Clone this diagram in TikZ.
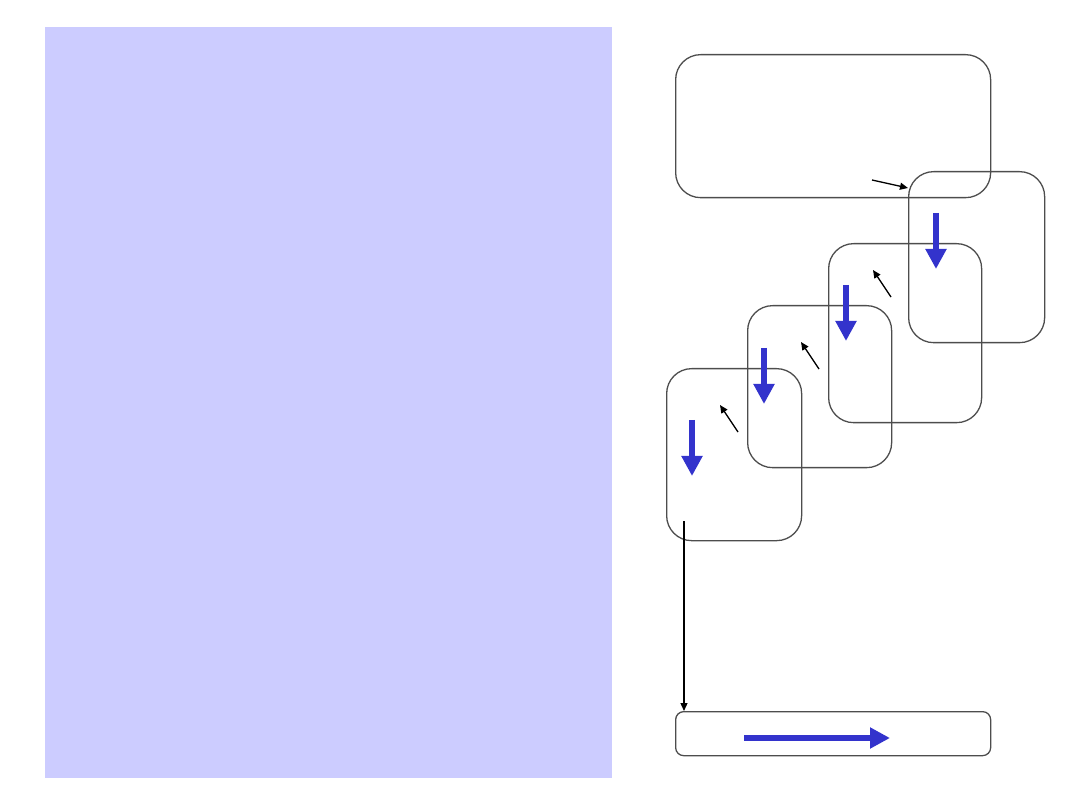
\documentclass[tikz,border=0pt]{standalone}
\usetikzlibrary{positioning, arrows.meta}
\definecolor{panelblue}{HTML}{CCCCFF}
\definecolor{flowblue}{HTML}{3333CC}
\definecolor{framegray}{HTML}{4D4D4D}

\begin{document}
\begin{tikzpicture}[
  x=1pt, y=-1pt,
  every node/.style={draw=framegray, line width=1.3pt, rounded corners=25pt,
                     inner sep=0pt, anchor=north west},
  flow/.style={draw=flowblue, line width=6pt, -{Triangle[length=20pt, width=20pt]}},
  hint/.style={line width=1.3pt, -{Triangle[length=8pt, width=7pt]}}
]
  \useasboundingbox (0,0) rectangle (1080,810);
  \fill[panelblue] (45,27) rectangle (612,778);

  % --- nodes: boxes ---
  \node (top)   [minimum width=315pt, minimum height=143pt] at (675,54)  {};
  \node (frA)   [minimum width=136pt, minimum height=171pt] at (908,171) {};
  \node (frB)   [minimum width=153pt, minimum height=179pt] at (828,243) {};
  \node (frC)   [minimum width=144pt, minimum height=162pt] at (747,305) {};
  \node (frD)   [minimum width=135pt, minimum height=172pt] at (666,368) {};
  \node (out)   [minimum width=315pt, minimum height=44pt, rounded corners=8pt] at (675,711) {};

  % --- free ends ---
  \coordinate (a1) at (936,213); \coordinate (a2) at (936,269);
  \coordinate (b1) at (846,285); \coordinate (b2) at (846,341);
  \coordinate (c1) at (764,348); \coordinate (c2) at (764,404);
  \coordinate (d1) at (692,420); \coordinate (d2) at (692,476);
  \coordinate (o1) at (744,738); \coordinate (o2) at (890,738);

  \coordinate (hA) at (872,180); \coordinate (tA) at (908,188);
  \coordinate (hB) at (891,297); \coordinate (tB) at (873,270);
  \coordinate (hC) at (819,369); \coordinate (tC) at (801,342);
  \coordinate (hD) at (738,432); \coordinate (tD) at (720,405);
  \coordinate (go) at (684,521);

  % --- edges ---
  \draw[flow] (a1) -- (a2);
  \draw[flow] (b1) -- (b2);
  \draw[flow] (c1) -- (c2);
  \draw[flow] (d1) -- (d2);
  \draw[flow] (o1) -- (o2);

  \draw[hint] (hA) -- (tA);
  \draw[hint] (hB) -- (tB);
  \draw[hint] (hC) -- (tC);
  \draw[hint] (hD) -- (tD);
  \draw[hint] (go) -- (go |- out.north);
\end{tikzpicture}
\end{document}
